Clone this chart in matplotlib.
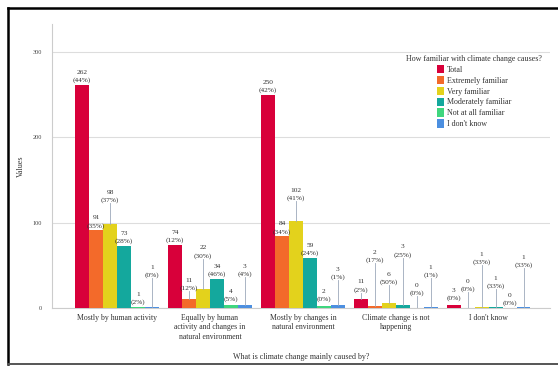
import matplotlib
matplotlib.use("Agg")
import matplotlib.pyplot as plt
from matplotlib.patches import Patch
from matplotlib.lines import Line2D

plt.rcParams['font.family'] = ['Liberation Serif', 'DejaVu Serif']

categories = [
    "Mostly by human activity",
    "Equally by human\nactivity and changes in\nnatural environment",
    "Mostly by changes in\nnatural environment",
    "Climate change is not\nhappening",
    "I don't know",
]
series_names = ["Total", "Extremely familiar", "Very familiar",
                "Moderately familiar", "Not at all familiar", "I don't know"]
colors = ["#D8003A", "#F36A2A", "#E3D21C", "#14A89D", "#3FD67E", "#4C8FE0"]

# counts per series (rows) for each cause category (columns)
total =        [262, 74, 250, 11, 3]
extremely =    [91, 11, 84, 2, 0]
very =         [98, 22, 102, 6, 1]
moderately =   [73, 34, 59, 3, 1]
not_at_all =   [1, 4, 2, 0, 0]
dont_know =    [1, 3, 3, 1, 1]

pct_total =      [44, 12, 42, 2, 0]
pct_extremely =  [35, 12, 34, 17, 0]
pct_very =       [37, 30, 41, 50, 33]
pct_moderately = [28, 46, 24, 25, 33]
pct_not_at_all = [2, 5, 0, 0, 0]
pct_dont_know =  [0, 4, 1, 1, 33]

values = [total, extremely, very, moderately, not_at_all, dont_know]
percents = [pct_total, pct_extremely, pct_very, pct_moderately,
            pct_not_at_all, pct_dont_know]

# height (in data units) of the bottom of each value label; labels lifted
# above their bar get a thin leader line
label_base = [
    [264, 76, 252, 18, 8],
    [93, 20, 86, 53, 19],
    [123, 58, 125, 27, 50],
    [75, 36, 61, 59, 22],
    [3, 7, 7, 14, 2],
    [35, 36, 33, 35, 47],
]

fig = plt.figure(figsize=(5.58, 3.67), dpi=100)
ax = fig.add_axes([52 / 558, 1 - 308 / 367, 498 / 558, 284 / 367])

n = len(series_names)
w = 0.15
x = list(range(len(categories)))
for j in range(n):
    xs = [i + (j - (n - 1) / 2) * w for i in x]
    ax.bar(xs, values[j], width=w, color=colors[j], zorder=3,
           label=series_names[j])
    for k, xi in enumerate(xs):
        v = values[j][k]
        base = label_base[j][k]
        ax.text(xi, base, f"{v}\n({percents[j][k]}%)", ha="center",
                va="bottom", fontsize=5.3, linespacing=1.55, color="#333333",
                zorder=5)
        if base - v > 5:
            ax.plot([xi, xi], [v, base], color="#9CA8BA", lw=0.6, zorder=4)

ax.set_xlim(-0.70, 4.66)
ax.set_ylim(0, 333)
ax.set_yticks([0, 100, 200, 300])
ax.set_yticklabels(["0", "100", "200", "300"], fontsize=4.5, color="#444444")
ax.yaxis.grid(True, color="#DDDDDD", lw=0.8, zorder=0)
ax.set_axisbelow(True)
ax.tick_params(axis="y", length=0, pad=7)
ax.set_xticks(x)
ax.set_xticklabels(categories, fontsize=5.6, color="#333333",
                   linespacing=1.25)
ax.tick_params(axis="x", length=0, pad=4)
for s in ["top", "right"]:
    ax.spines[s].set_visible(False)
ax.spines["left"].set_color("#CCCCCC")
ax.spines["bottom"].set_color("#CCCCCC")
ax.set_ylabel("Values", fontsize=5.8, color="#333333", labelpad=6)
ax.set_xlabel("What is climate change mainly caused by?", fontsize=5.8,
              color="#333333", labelpad=9)

handles = [Patch(facecolor=c) for c in colors]
leg = fig.legend(handles, series_names, title="How familiar with climate change causes?",
                 loc="upper center", bbox_to_anchor=(474 / 558, 1 - 51 / 367),
                 frameon=False, fontsize=5.8, title_fontsize=5.8,
                 handlelength=0.9, handleheight=1.2, handletextpad=0.3,
                 labelspacing=0.25, borderpad=0)
for t in leg.get_texts():
    t.set_color("#333333")
leg.get_title().set_color("#333333")

# page frame: top and left in black, bottom edge in grey
W, H = 558, 367
fig.lines.append(Line2D([8 / W, 1.0], [1 - 8 / H, 1 - 8 / H], transform=fig.transFigure,
                        color="black", lw=1.8))
fig.lines.append(Line2D([8 / W, 8 / W], [1 - 8 / H, 3 / H], transform=fig.transFigure,
                        color="black", lw=1.8))
fig.lines.append(Line2D([8 / W, 1.0], [3 / H, 3 / H], transform=fig.transFigure,
                        color="#555555", lw=1.4))

fig.savefig("out.png", dpi=100)
